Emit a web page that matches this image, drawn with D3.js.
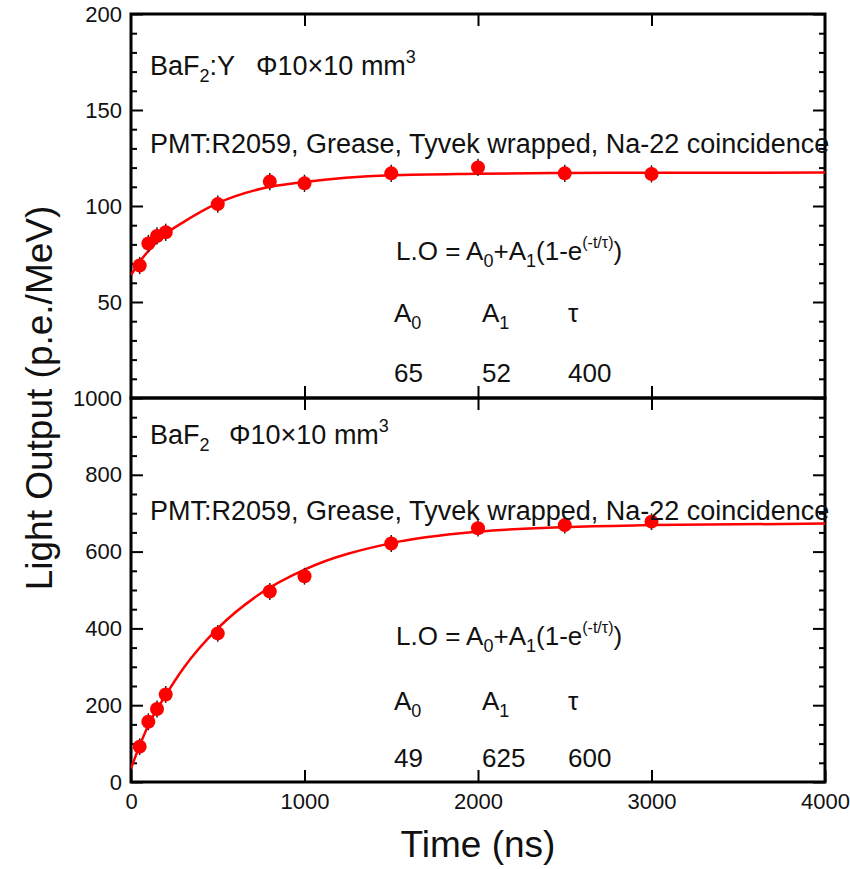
<!DOCTYPE html>
<html>
<head>
<meta charset="utf-8">
<script src="https://cdn.jsdelivr.net/npm/d3@7"></script>
<style>
  body { margin: 0; background: #fff; }
  svg text { font-family: Arial, "Liberation Sans", sans-serif; fill: #111; }
</style>
</head>
<body>
<svg id="chart" width="850" height="869"></svg>
<script>
// measured points (Time in ns, light output in p.e./MeV)
const times = [50, 100, 150, 200, 500, 800, 1000, 1500, 2000, 2500, 3000];
const bafyLO = [69, 80.5, 84.4, 86.3, 101, 112.7, 111.8, 117, 120.1, 117, 116.7];
const bafyErr = [4.5, 4.5, 4.5, 4.5, 4.5, 4.5, 4.5, 4.5, 4.5, 4.5, 4.5];
const bafLO = [92, 157, 190, 228, 387, 496, 536, 621, 661, 669, 678];
const bafErr = [22, 22, 22, 22, 22, 22, 22, 22, 22, 22, 22];

// fitted curves
const fitTimes = [0, 50, 100, 200, 300, 500, 750, 1000, 1500, 2000, 2500, 3000, 4000];
const bafyFit = [64, 71, 76.5, 85.5, 91.5, 101.5, 109, 112.5, 116, 116.8, 117.2, 117.3, 117.4];
const bafFit = [35, 95, 148, 226, 295, 400, 492, 553, 622, 652, 664, 669, 673];

// axes
const xTicks = [0, 1000, 2000, 3000, 4000];
const bafyTicks = [50, 100, 150, 200];
const bafTicks = [0, 200, 400, 600, 800, 1000];

// fit parameters printed in each panel
const paramNames = ['A0', 'A1', 'τ'];
const bafyParams = ['65', '52', '400'];
const bafParams = ['49', '625', '600'];

const left = 131, right = 825;
const svg = d3.select('#chart');
const fmt = d3.format('d');

const x = d3.scaleLinear().domain([0, 4000]).range([left, right]);

const panels = [
  {
    top: 14, bottom: 398, domain: [0, 200], ticks: bafyTicks, minorStep: 10,
    lo: bafyLO, err: bafyErr, fit: bafyFit, params: bafyParams,
    name: 'BaF', suffix: ':Y', phiX: 256,
    titleY: 75, pmtY: 153, formulaY: 260, namesY: 322, valuesY: 382
  },
  {
    top: 398, bottom: 782, domain: [0, 1000], ticks: bafTicks, minorStep: 50,
    lo: bafLO, err: bafErr, fit: bafFit, params: bafParams,
    name: 'BaF', suffix: '', phiX: 229,
    titleY: 444, pmtY: 520, formulaY: 645, namesY: 710, valuesY: 767
  }
];

panels.forEach(function (p, k) {
  const y = d3.scaleLinear().domain(p.domain).range([p.bottom, p.top]);
  const minor = d3.range(p.domain[0], p.domain[1] + 1, p.minorStep)
    .filter(function (v) { return p.ticks.indexOf(v) < 0 && v !== p.domain[0]; });
  const g = svg.append('g');

  const clipId = 'clip' + k;
  svg.append('clipPath').attr('id', clipId)
    .append('rect')
    .attr('x', left).attr('y', p.top)
    .attr('width', right - left).attr('height', p.bottom - p.top);

  // y axes, ticks inward on both sides
  g.append('g').attr('class', 'axis')
    .attr('transform', 'translate(' + left + ',0)')
    .call(d3.axisLeft(y).tickValues(p.ticks).tickSize(-12).tickPadding(9).tickFormat(fmt));
  g.append('g').attr('class', 'axis')
    .attr('transform', 'translate(' + left + ',0)')
    .call(d3.axisLeft(y).tickValues(minor).tickSize(-6).tickFormat(''));
  g.append('g').attr('class', 'axis')
    .attr('transform', 'translate(' + right + ',0)')
    .call(d3.axisRight(y).tickValues(p.ticks).tickSize(-12).tickFormat(''));
  g.append('g').attr('class', 'axis')
    .attr('transform', 'translate(' + right + ',0)')
    .call(d3.axisRight(y).tickValues(minor).tickSize(-6).tickFormat(''));

  // x axes
  g.append('g').attr('class', 'axis')
    .attr('transform', 'translate(0,' + p.top + ')')
    .call(d3.axisTop(x).tickValues(xTicks.slice(1, -1)).tickSize(-12).tickFormat(''));
  const xb = g.append('g').attr('class', 'axis')
    .attr('transform', 'translate(0,' + p.bottom + ')');
  if (k === panels.length - 1) {
    xb.call(d3.axisBottom(x).tickValues(xTicks).tickSize(-12).tickPadding(11).tickFormat(fmt));
  } else {
    xb.call(d3.axisBottom(x).tickValues(xTicks.slice(1, -1)).tickSize(-12).tickFormat(''));
  }

  // frame
  g.append('rect')
    .attr('x', left).attr('y', p.top)
    .attr('width', right - left).attr('height', p.bottom - p.top)
    .attr('fill', 'none').attr('stroke', '#000').attr('stroke-width', 3);

  // fit curve
  const line = d3.line()
    .x(function (d, i) { return x(fitTimes[i]); })
    .y(function (d) { return y(d); })
    .curve(d3.curveMonotoneX);
  g.append('path')
    .attr('clip-path', 'url(#' + clipId + ')')
    .attr('d', line(p.fit))
    .attr('fill', 'none').attr('stroke', '#ff0000').attr('stroke-width', 2.5);

  // error bars + points
  const pts = g.append('g').selectAll('g').data(p.lo).enter().append('g');
  pts.append('line')
    .attr('x1', function (d, i) { return x(times[i]); })
    .attr('x2', function (d, i) { return x(times[i]); })
    .attr('y1', function (d, i) { return y(d - p.err[i]); })
    .attr('y2', function (d, i) { return y(d + p.err[i]); })
    .attr('stroke', '#222').attr('stroke-width', 1.5);
  pts.append('circle')
    .attr('cx', function (d, i) { return x(times[i]); })
    .attr('cy', function (d) { return y(d); })
    .attr('r', 7)
    .attr('fill', '#ff0000');

  // annotations
  const title = g.append('text').attr('x', 150).attr('y', p.titleY).attr('font-size', 27);
  title.append('tspan').text(p.name);
  title.append('tspan').attr('font-size', 18).attr('dy', 7).text('2');
  title.append('tspan').attr('dy', -7).text(p.suffix);
  const phi = g.append('text').attr('x', p.phiX).attr('y', p.titleY).attr('font-size', 27);
  phi.append('tspan').text('Φ10×10 mm');
  phi.append('tspan').attr('font-size', 18).attr('dy', -12).text('3');

  g.append('text').attr('x', 150).attr('y', p.pmtY).attr('font-size', 27)
    .text('PMT:R2059, Grease, Tyvek wrapped, Na-22 coincidence');

  const f = g.append('text').attr('x', 396).attr('y', p.formulaY).attr('font-size', 26);
  f.append('tspan').text('L.O = A');
  f.append('tspan').attr('font-size', 18).attr('dy', 7).text('0');
  f.append('tspan').attr('dy', -7).text('+A');
  f.append('tspan').attr('font-size', 18).attr('dy', 7).text('1');
  f.append('tspan').attr('dy', -7).text('(1-e');
  f.append('tspan').attr('font-size', 16).attr('dy', -12).text('(-t/τ)');
  f.append('tspan').attr('dy', 12).text(')');

  const colX = [394, 482, 568];
  paramNames.forEach(function (n, i) {
    const t = g.append('text').attr('x', colX[i]).attr('y', p.namesY).attr('font-size', 26);
    if (n.length > 1) {
      t.append('tspan').text(n[0]);
      t.append('tspan').attr('font-size', 18).attr('dy', 7).text(n.slice(1));
    } else {
      t.append('tspan').text(n);
    }
    g.append('text').attr('x', colX[i]).attr('y', p.valuesY).attr('font-size', 26)
      .text(p.params[i]);
  });
});

svg.selectAll('.axis .domain').remove();
svg.selectAll('.axis line').attr('stroke', '#000').attr('stroke-width', 2);
svg.selectAll('.axis text').attr('font-size', 22).attr('fill', '#111');

svg.append('text')
  .attr('transform', 'translate(52,398) rotate(-90)')
  .attr('text-anchor', 'middle')
  .attr('font-size', 37)
  .text('Light Output (p.e./MeV)');

svg.append('text')
  .attr('x', 478).attr('y', 857)
  .attr('text-anchor', 'middle')
  .attr('font-size', 37)
  .text('Time (ns)');
</script>
</body>
</html>
